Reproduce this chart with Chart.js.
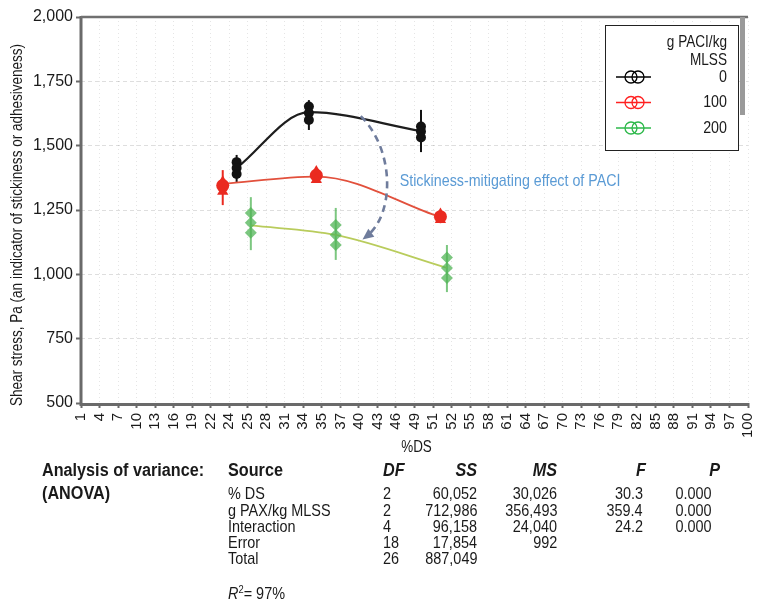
<!DOCTYPE html>
<html><head><meta charset="utf-8">
<script src="https://cdn.jsdelivr.net/npm/chart.js@4"></script>
<style>
html,body{margin:0;padding:0;background:#fff;}
body{width:759px;height:603px;position:relative;overflow:hidden;font-family:'Liberation Sans',Arial,sans-serif;color:#1a1a1a;}
#wrap{position:absolute;left:0;top:0;width:759px;height:462px;}
.t{position:absolute;white-space:nowrap;font-size:17px;line-height:19.5px;transform:scaleX(0.85);transform-origin:left center;}
.t.r{transform-origin:right center;}
.b{font-weight:bold;font-size:18px;line-height:20.7px;transform:scaleX(0.9);}
.i{font-style:italic;}
</style></head>
<body>
<div id="wrap"><canvas id="c" width="759" height="462"></canvas></div>
<div id="tbl"></div>
<script>
// ---- data ----
const xLabels = [1,4,7,10,13,16,19,22,24,25,28,31,34,35,37,40,43,46,49,51,52,55,58,61,64,67,70,73,76,79,82,85,88,91,94,97,100];
const yMin = 500, yMax = 2000, yStep = 250;
const seriesNames = ['0','100','200'];
const legendTitle = ['g PACI/kg','MLSS'];
const yTitle = 'Shear stress, Pa (an indicator of stickiness or adhesiveness)';
const xTitle = '%DS';

const ds0 = [24.4, 34.3, 49.7];
const mean0 = [1413, 1630, 1557];
const rep0 = [[1436,1413,1390],[1652,1627,1600],[1574,1555,1532]];
const low0 = [1359,1561,1475];
const high0 = [1464,1677,1639];

const ds100 = [23.3, 34.7, 51.4];
const mean100 = [1352, 1380, 1222];
const rep100 = [[1360,1345,1322],[1400,1385,1368],[1234,1224,1212]];
const low100 = [1269,1355,1200];
const high100 = [1405,1410,1240];

const ds200 = [25.5, 36.5, 51.75];
const mean200 = [1190, 1153, 1025];
const rep200 = [[1238,1200,1162],[1192,1153,1114],[1065,1025,986]];
const low200 = [1094,1056,931];
const high200 = [1300,1258,1114];

const noteText = 'Stickiness-mitigating effect of PACI';
const noteAt = [46.6, 1363];
const arrowPath = [[40.3,1615],[45.85,1483],[45.85,1230],[41.1,1145]];

const anovaHead = ['Source','DF','SS','MS','F','P'];
const anovaSource = ['% DS','g PAX/kg MLSS','Interaction','Error','Total'];
const anovaDF = ['2','2','4','18','26'];
const anovaSS = ['60,052','712,986','96,158','17,854','887,049'];
const anovaMS = ['30,026','356,493','24,040','992',''];
const anovaF = ['30.3','359.4','24.2','',''];
const anovaP = ['0.000','0.000','0.000','',''];

// ---- helpers ----
function toIdx(v){
  for(let i=0;i<xLabels.length-1;i++){
    if(v>=xLabels[i] && v<=xLabels[i+1]) return i+(v-xLabels[i])/(xLabels[i+1]-xLabels[i]);
  }
  return v<xLabels[0]?0:xLabels.length-1;
}
const FT = "'Liberation Sans',Arial,sans-serif";
const colors = ['#000000','#ff2020','#2db84a'];
const lineColors = ['#1e1e1e','#e2503c','#b9cc5c'];
const markColors = ['#121212','#ea2a20','rgba(80,180,85,0.75)'];
const groups = [
  {ds:ds0, mean:mean0, rep:rep0, low:low0, high:high0, styles:['circle','circle','circle'], r:5},
  {ds:ds100, mean:mean100, rep:rep100, low:low100, high:high100, styles:['triangle','circle','triangle'], r:6.5},
  {ds:ds200, mean:mean200, rep:rep200, low:low200, high:high200, styles:['rectRot','rectRot','rectRot'], r:6}
];

const datasets = [];
groups.forEach((g,k)=>{
  const pts=[], st=[];
  g.rep.forEach((r,i)=>r.forEach((v,j)=>{pts.push({x:toIdx(g.ds[i]),y:v}); st.push(g.styles[j]);}));
  datasets.push({type:'scatter', label:'rep'+seriesNames[k], data:pts, order:1,
    pointStyle:st, pointRadius:g.r, backgroundColor:markColors[k], borderColor:markColors[k], borderWidth:0});
});
groups.forEach((g,k)=>{
  datasets.push({type:'line', label:seriesNames[k], data:g.ds.map((d,i)=>({x:toIdx(d),y:g.mean[i]})), order:2,
    borderColor:lineColors[k], borderWidth:k===0?2.2:1.8, cubicInterpolationMode:'monotone', pointRadius:0, fill:false});
});

function condText(ctx, text, x, y, size, sx, align, rot){
  ctx.save();
  ctx.translate(x,y);
  if(rot) ctx.rotate(rot);
  ctx.scale(sx,1);
  ctx.font = size+'px '+FT;
  ctx.textAlign = align; ctx.textBaseline='middle';
  ctx.fillText(text,0,0);
  ctx.restore();
}

const decor = {
  id:'decor',
  beforeDatasetsDraw(chart){
    const {ctx, chartArea:a, scales:{x,y}} = chart;
    ctx.save();
    groups.forEach((g,k)=>{
      ctx.strokeStyle = markColors[k]; ctx.lineWidth = 2;
      g.ds.forEach((d,i)=>{
        const px = x.getPixelForValue(toIdx(d));
        ctx.beginPath(); ctx.moveTo(px,y.getPixelForValue(g.low[i])); ctx.lineTo(px,y.getPixelForValue(g.high[i])); ctx.stroke();
      });
    });
    ctx.strokeStyle='#6a6a6a'; ctx.lineWidth=3; ctx.setLineDash([]);
    ctx.beginPath(); ctx.moveTo(a.left,a.top-1); ctx.lineTo(a.left,a.bottom+1.5); ctx.lineTo(a.right,a.bottom+1.5); ctx.stroke();
    ctx.lineWidth=2.5; ctx.strokeStyle='#707070';
    ctx.beginPath(); ctx.moveTo(a.left,a.top); ctx.lineTo(a.right,a.top); ctx.stroke();
    ctx.restore();
  },
  afterDatasetsDraw(chart){
    const {ctx, chartArea:a, scales:{x,y}} = chart;
    const P = p=>[x.getPixelForValue(toIdx(p[0])), y.getPixelForValue(p[1])];
    ctx.save();
    const [p0,c1,c2,p3] = arrowPath.map(P);
    ctx.strokeStyle='#6f7c9c'; ctx.lineWidth=2.6; ctx.setLineDash([7,5]);
    ctx.beginPath(); ctx.moveTo(p0[0],p0[1]); ctx.bezierCurveTo(c1[0],c1[1],c2[0],c2[1],p3[0],p3[1]); ctx.stroke();
    ctx.setLineDash([]);
    const ang = Math.atan2(p3[1]-c2[1], p3[0]-c2[0]);
    ctx.fillStyle='#6f7c9c';
    ctx.beginPath();
    ctx.moveTo(p3[0]+4*Math.cos(ang), p3[1]+4*Math.sin(ang));
    ctx.lineTo(p3[0]-7*Math.cos(ang)+5*Math.sin(ang), p3[1]-7*Math.sin(ang)-5*Math.cos(ang));
    ctx.lineTo(p3[0]-7*Math.cos(ang)-5*Math.sin(ang), p3[1]-7*Math.sin(ang)+5*Math.cos(ang));
    ctx.closePath(); ctx.fill();
    const n = P(noteAt);
    ctx.fillStyle='#5b9bd5';
    condText(ctx, noteText, n[0], n[1], 17, 0.84, 'left');
    // legend
    const bx = a.right-143, by = a.top+8, bw = 133, bh = 125;
    ctx.fillStyle='#9a9a9a'; ctx.fillRect(bx+bw+2, a.top, 5, 98);
    ctx.fillStyle='#fff'; ctx.fillRect(bx,by,bw,bh);
    ctx.strokeStyle='#222'; ctx.lineWidth=1; ctx.strokeRect(bx+0.5,by+0.5,bw,bh);
    ctx.fillStyle='#1a1a1a';
    condText(ctx, legendTitle[0], bx+bw-11, by+17, 17, 0.8, 'right');
    condText(ctx, legendTitle[1], bx+bw-11, by+35, 17, 0.8, 'right');
    seriesNames.forEach((s,k)=>{
      const yy = by+52+k*25.5;
      ctx.fillStyle='#1a1a1a';
      condText(ctx, s, bx+bw-11, yy, 17, 0.84, 'right');
      ctx.strokeStyle=colors[k]; ctx.lineWidth=1.3;
      ctx.beginPath(); ctx.moveTo(bx+11,yy); ctx.lineTo(bx+46,yy); ctx.stroke();
      ctx.beginPath(); ctx.arc(bx+26,yy,6,0,Math.PI*2); ctx.stroke();
      ctx.beginPath(); ctx.arc(bx+33,yy,6,0,Math.PI*2); ctx.stroke();
    });
    ctx.restore();
  },
  afterDraw(chart){
    const {ctx, chartArea:a} = chart;
    ctx.save();
    ctx.fillStyle='#1a1a1a';
    condText(ctx, yTitle, 18, (a.top+a.bottom)/2+15, 16, 0.845, 'center', -Math.PI/2);
    condText(ctx, xTitle, (a.left+a.right)/2+2, 448, 16, 0.84, 'center');
    ctx.restore();
  }
};

new Chart(document.getElementById('c'), {
  data:{datasets},
  options:{
    responsive:false, animation:false, events:[],
    layout:{padding:{left:0,top:17,right:11,bottom:0}},
    plugins:{legend:{display:false}, tooltip:{enabled:false}},
    scales:{
      x:{type:'linear', min:0, max:xLabels.length-1,
        afterFit:s=>{s.height=59; s.paddingLeft=0; s.paddingRight=0;},
        ticks:{stepSize:1, autoSkip:false, maxRotation:90, minRotation:90, padding:5, color:'#1a1a1a',
          font:{family:FT, size:15}, callback:v=>xLabels[v]!==undefined?String(xLabels[v]):''},
        grid:{color:'rgba(0,0,0,0.10)', tickColor:'#6a6a6a', tickLength:5, tickWidth:2},
        border:{display:false, dash:[1,3]}
      },
      y:{type:'linear', min:yMin, max:yMax,
        afterFit:s=>{s.width=81; s.paddingTop=0; s.paddingBottom=0;},
        ticks:{stepSize:yStep, padding:3, color:'#1a1a1a', font:{family:FT, size:16},
          callback:v=>v.toLocaleString('en-US')},
        grid:{color:'rgba(0,0,0,0.13)', tickColor:'#6a6a6a', tickLength:5, tickWidth:2},
        border:{display:false, dash:[4,3]}
      }
    }
  },
  plugins:[decor]
});

// ---- ANOVA table ----
(function(){
  const tb = document.getElementById('tbl');
  function put(text, x, yc, cls, align){
    const d = document.createElement('div');
    d.className = 't '+(cls||'')+(align==='right'?' r':'');
    d.textContent = text;
    if(align==='right'){ d.style.right=(759-x)+'px'; } else { d.style.left=x+'px'; }
    const big = (cls||'').indexOf('b')>=0;
    d.style.top = (yc-(big?10.2:9.6))+'px';
    tb.appendChild(d);
    return d;
  }
  put('Analysis of variance:', 42, 470, 'b');
  put('(ANOVA)', 42, 493, 'b');
  put(anovaHead[0], 228, 470, 'b');
  put(anovaHead[1], 383, 470, 'b i');
  put(anovaHead[2], 477, 470, 'b i', 'right');
  put(anovaHead[3], 557, 470, 'b i', 'right');
  put(anovaHead[4], 646, 470, 'b i', 'right');
  put(anovaHead[5], 720, 470, 'b i', 'right');
  anovaSource.forEach((s,i)=>{
    const yc = 494 + i*16.2;
    put(s, 228, yc);
    put(anovaDF[i], 383, yc);
    put(anovaSS[i], 477, yc, '', 'right');
    if(anovaMS[i]) put(anovaMS[i], 557, yc, '', 'right');
    if(anovaF[i]) put(anovaF[i], 643, yc, '', 'right');
    if(anovaP[i]) put(anovaP[i], 712, yc, '', 'right');
  });
  const r = put('', 228, 590, 'i');
  r.innerHTML = 'R<sup style="font-size:11px;font-style:normal;vertical-align:6px">2</sup><span style="font-style:normal">= 97%</span>';
})();
</script>
</body></html>
